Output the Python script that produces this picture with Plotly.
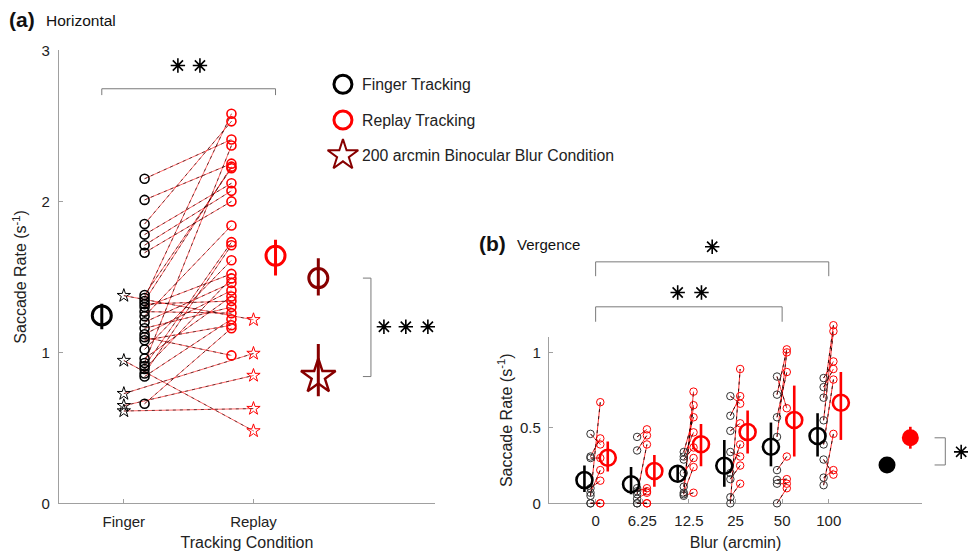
import plotly.graph_objects as go

# ---------------- data: panel (a) Horizontal ----------------
finger_circ = [2.15, 2.01, 1.85, 1.78, 1.71, 1.66,
               1.38, 1.36, 1.34, 1.32, 1.30, 1.27, 1.24, 1.20, 1.16, 1.12,
               1.10, 1.08, 1.02, 0.96, 0.93, 0.91, 0.89, 0.86, 0.84, 0.66]
replay_circ = [2.41, 2.25, 2.53, 2.12, 2.07, 2.00,
               2.22, 2.58, 2.23, 1.34, 1.52, 1.26, 1.84, 1.46, 1.30, 1.41,
               0.98, 1.18, 1.61, 1.37, 2.37, 1.73, 1.49, 1.71, 1.22, 1.16]
finger_star = [1.376, 0.946, 0.727, 0.647, 0.612]
replay_star = [1.216, 0.480, 0.993, 0.847, 0.628]
a_means = [1.245, 1.640, 1.492, 0.840]          # finger, replay, 200' circle, 200' star
a_lo = [1.153, 1.510, 1.376, 0.710]
a_hi = [1.322, 1.746, 1.624, 1.056]
a_ticks = ["Finger", "Replay"]
legend_labels = ["Finger Tracking", "Replay Tracking", "200 arcmin Binocular Blur Condition"]

# ---------------- data: panel (b) Vergence ----------------
blur_labels = ["0", "6.25", "12.5", "25", "50", "100"]
b_black = [
    [0.46, 0.31, 0.30, 0.10, 0.07, 0.05, 0.00, 0.00],
    [0.44, 0.35, 0.10, 0.08, 0.06, 0.03, 0.00, 0.00],
    [0.34, 0.31, 0.29, 0.20, 0.11, 0.07, 0.06, 0.05],
    [0.71, 0.58, 0.48, 0.34, 0.20, 0.16, 0.04, 0.00],
    [0.84, 0.72, 0.57, 0.44, 0.22, 0.155, 0.13, 0.00],
    [0.83, 0.77, 0.70, 0.55, 0.39, 0.29, 0.17, 0.12],
]
b_red = [
    [0.39, 0.43, 0.30, 0.15, 0.22, 0.67, 0.00, 0.00],
    [0.49, 0.45, 0.08, 0.10, 0.39, 0.07, 0.00, 0.00],
    [0.57, 0.47, 0.37, 0.30, 0.65, 0.24, 0.74, 0.07],
    [0.66, 0.71, 0.53, 0.31, 0.39, 0.25, 0.13, 0.89],
    [0.63, 1.02, 0.87, 1.00, 0.31, 0.16, 0.13, 0.10],
    [0.94, 0.89, 1.18, 1.14, 0.82, 0.19, 0.22, 0.46],
]
b_black_mean = [0.154, 0.126, 0.196, 0.249, 0.375, 0.446]
b_black_lo = [0.075, 0.060, 0.150, 0.110, 0.245, 0.310]
b_black_hi = [0.250, 0.240, 0.240, 0.420, 0.535, 0.597]
b_red_mean = [0.302, 0.214, 0.391, 0.472, 0.552, 0.666]
b_red_lo = [0.210, 0.110, 0.245, 0.330, 0.310, 0.420]
b_red_hi = [0.410, 0.320, 0.525, 0.615, 0.780, 0.870]
overall_black = 0.254
overall_red = 0.434
overall_red_lo = 0.362
overall_red_hi = 0.507

# ---------------- styles ----------------
RED = "#FF0000"
DARK = "#870000"
AXC = "#A0A0A0"
BRC = "#7a7a7a"
TXT = "#222222"
FONT = "Liberation Sans, Arial, sans-serif"
W, H = 968, 557

# axis geometry
XA_DOM = [59 / W, 435 / W]
YA_DOM = [1 - 503.4 / H, 1 - 50.4 / H]
XA_RNG = [0.5, 3.4]
YA_RNG = [0, 3]
XB_DOM = [549 / W, 922 / W]
YB_DOM = [1 - 503.3 / H, 1 - 337.3 / H]
XB_RNG = [-1, 7]
YB_RNG = [0, 1.1]


def to_paper(v, dom, rng):
    return dom[0] + (v - rng[0]) / (rng[1] - rng[0]) * (dom[1] - dom[0])


def from_paper(p, dom, rng):
    return rng[0] + (p - dom[0]) / (dom[1] - dom[0]) * (rng[1] - rng[0])


# invisible overlay axes for panel (b) data with the same scale but a larger
# area, so that marks above the axis top (as in the original) are not clipped
X3_DOM = [XB_DOM[0] - 0.02, 1.0]
Y3_DOM = [YB_DOM[0] - 0.04, 0.62]
X3_RNG = [from_paper(d, XB_DOM, XB_RNG) for d in X3_DOM]
Y3_RNG = [from_paper(d, YB_DOM, YB_RNG) for d in Y3_DOM]

fig = go.Figure()

XF_C, XR_C, XF_S, XR_S = 1.16, 1.83, 1.0, 2.0
XM = [0.83, 2.17, 2.5, 2.5]


def pair_lines(x0, y0s, x1, y1s):
    xs, ys = [], []
    for a, b in zip(y0s, y1s):
        xs += [x0, x1, None]
        ys += [a, b, None]
    return xs, ys


# ---- panel (a) connecting lines ----
lx, ly = pair_lines(XF_C, finger_circ, XR_C, replay_circ)
sx, sy = pair_lines(XF_S, finger_star, XR_S, replay_star)
for col, dash in [(RED, "solid"), ("#000000", "3px,4px")]:
    fig.add_trace(go.Scatter(x=lx + sx, y=ly + sy, mode="lines",
                             line=dict(color=col, width=0.6, dash=dash),
                             xaxis="x", yaxis="y", hoverinfo="skip", showlegend=False))

# ---- panel (a) individual markers ----
fig.add_trace(go.Scatter(x=[XF_C] * len(finger_circ), y=finger_circ, mode="markers",
                         marker=dict(symbol="circle-open", size=9, color="#000", line=dict(width=1.6)),
                         showlegend=False))
fig.add_trace(go.Scatter(x=[XR_C] * len(replay_circ), y=replay_circ, mode="markers",
                         marker=dict(symbol="circle-open", size=9, color=RED, line=dict(width=1.6)),
                         showlegend=False))
fig.add_trace(go.Scatter(x=[XF_S] * len(finger_star), y=finger_star, mode="markers",
                         marker=dict(symbol="star-open", size=10, color="#000", line=dict(width=1)),
                         showlegend=False))
fig.add_trace(go.Scatter(x=[XR_S] * len(replay_star), y=replay_star, mode="markers",
                         marker=dict(symbol="star-open", size=10, color=RED, line=dict(width=1)),
                         showlegend=False))

# ---- panel (a) means ----
mean_cols = ["#000000", RED, DARK, DARK]
mean_syms = ["circle-open", "circle-open", "circle-open", "star-open"]
mean_sizes = [19, 19, 19, 26]
for i in range(4):
    fig.add_trace(go.Scatter(
        x=[XM[i]], y=[a_means[i]], mode="markers",
        marker=dict(symbol=mean_syms[i], size=mean_sizes[i], color=mean_cols[i],
                    line=dict(width=3 if i < 3 else 2.4)),
        error_y=dict(type="data", symmetric=False, array=[a_hi[i] - a_means[i]],
                     arrayminus=[a_means[i] - a_lo[i]], color=mean_cols[i], thickness=3, width=0),
        showlegend=False))

# ---- panel (a) legend (drawn inside axes) ----
LEG_X, LEG_TX = 2.69, 2.82
LEG_Y = [2.776, 2.539, 2.306]
leg_cols = ["#000000", RED, DARK]
leg_syms = ["circle-open", "circle-open", "star-open"]
leg_sizes = [18, 18, 23]
for i in range(3):
    fig.add_trace(go.Scatter(x=[LEG_X], y=[LEG_Y[i]], mode="markers",
                             marker=dict(symbol=leg_syms[i], size=leg_sizes[i], color=leg_cols[i],
                                         line=dict(width=3 if i < 2 else 2)),
                             showlegend=False))
    fig.add_annotation(x=LEG_TX, y=LEG_Y[i], xref="x", yref="y", text=legend_labels[i],
                       showarrow=False, xanchor="left", yanchor="middle",
                       font=dict(size=15.8, color=TXT, family=FONT))

# ---- panel (a) significance ----
BR_Y, BR_T = 2.746, 2.704
RB_X, RB_T = 2.906, 2.844
a_br = [(XM[0], BR_T, XM[0], BR_Y), (XM[0], BR_Y, XM[1], BR_Y), (XM[1], BR_Y, XM[1], BR_T),
        (RB_T, a_means[2], RB_X, a_means[2]), (RB_X, a_means[2], RB_X, a_means[3]),
        (RB_X, a_means[3], RB_T, a_means[3])]
for x0, y0, x1, y1 in a_br:
    fig.add_shape(type="line", x0=to_paper(x0, XA_DOM, XA_RNG), x1=to_paper(x1, XA_DOM, XA_RNG),
                  y0=to_paper(y0, YA_DOM, YA_RNG), y1=to_paper(y1, YA_DOM, YA_RNG),
                  xref="paper", yref="paper", line=dict(color=BRC, width=1))
fig.add_trace(go.Scatter(x=[1.417, 1.587, 3.006, 3.175, 3.345], y=[2.9, 2.9, 1.17, 1.17, 1.17],
                         mode="markers", showlegend=False,
                         marker=dict(symbol="asterisk-open", size=12, color="#000",
                                     line=dict(width=1.6, color="#000"))))

# ---------------- panel (b) ----------------
# dummy trace so the visible axes x2/y2 are drawn
fig.add_trace(go.Scatter(x=[None], y=[None], xaxis="x2", yaxis="y2", showlegend=False))

OB, OR = -0.11, 0.10
MB, MR = -0.24, 0.26
bx, by = [], []
for i in range(6):
    for a, b in zip(b_black[i], b_red[i]):
        bx += [i + OB, i + OR, None]
        by += [a, b, None]
for col, dash in [(RED, "solid"), ("#000000", "3px,4px")]:
    fig.add_trace(go.Scatter(x=bx, y=by, mode="lines", xaxis="x3", yaxis="y3",
                             line=dict(color=col, width=0.8, dash=dash), hoverinfo="skip",
                             showlegend=False))
for i in range(6):
    fig.add_trace(go.Scatter(x=[i + OB] * len(b_black[i]), y=b_black[i], mode="markers",
                             xaxis="x3", yaxis="y3", showlegend=False,
                             marker=dict(symbol="circle-open", size=7.5, color="#333", line=dict(width=1))))
    fig.add_trace(go.Scatter(x=[i + OR] * len(b_red[i]), y=b_red[i], mode="markers",
                             xaxis="x3", yaxis="y3", showlegend=False,
                             marker=dict(symbol="circle-open", size=7.5, color=RED, line=dict(width=1))))

fig.add_trace(go.Scatter(
    x=[i + MB for i in range(6)], y=b_black_mean, mode="markers", xaxis="x3", yaxis="y3",
    marker=dict(symbol="circle-open", size=16, color="#000", line=dict(width=2.6)),
    error_y=dict(type="data", symmetric=False,
                 array=[h - m for h, m in zip(b_black_hi, b_black_mean)],
                 arrayminus=[m - l for l, m in zip(b_black_lo, b_black_mean)],
                 color="#000", thickness=2.6, width=0),
    showlegend=False))
fig.add_trace(go.Scatter(
    x=[i + MR for i in range(6)], y=b_red_mean, mode="markers", xaxis="x3", yaxis="y3",
    marker=dict(symbol="circle-open", size=16, color=RED, line=dict(width=2.6)),
    error_y=dict(type="data", symmetric=False,
                 array=[h - m for h, m in zip(b_red_hi, b_red_mean)],
                 arrayminus=[m - l for l, m in zip(b_red_lo, b_red_mean)],
                 color=RED, thickness=2.6, width=0),
    showlegend=False))
fig.add_trace(go.Scatter(x=[6.25], y=[overall_black], mode="markers", xaxis="x3", yaxis="y3",
                         marker=dict(symbol="circle", size=17, color="#000"), showlegend=False))
fig.add_trace(go.Scatter(x=[6.75], y=[overall_red], mode="markers", xaxis="x3", yaxis="y3",
                         marker=dict(symbol="circle", size=17, color=RED),
                         error_y=dict(type="data", symmetric=False, array=[overall_red_hi - overall_red],
                                      arrayminus=[overall_red - overall_red_lo], color=RED,
                                      thickness=2.6, width=0),
                         showlegend=False))

# panel (b) significance brackets
brx, bry = [], []
for (xa, xb, yt, yb) in [(0, 5, 1.60, 1.505), (0, 4, 1.302, 1.203)]:
    brx += [xa, xa, xb, xb, None]
    bry += [yb, yt, yt, yb, None]
brx += [7.27, 7.5, 7.5, 7.27]
bry += [overall_red, overall_red, overall_black, overall_black]
fig.add_trace(go.Scatter(x=brx, y=bry, mode="lines", xaxis="x3", yaxis="y3",
                         line=dict(color=BRC, width=1), hoverinfo="skip", showlegend=False))
fig.add_trace(go.Scatter(x=[2.5, 1.76, 2.27, 7.84], y=[1.70, 1.397, 1.397, 0.341],
                         mode="markers", xaxis="x3", yaxis="y3", showlegend=False,
                         marker=dict(symbol="asterisk-open", size=12, color="#000",
                                     line=dict(width=1.6, color="#000"))))

# ---------------- panel labels ----------------
for xp, yp, txt, sz, bold in [(7, 19, "(a)", 21, True), (44, 20, "Horizontal", 15.5, False),
                               (477, 243, "(b)", 21, True), (515, 244, "Vergence", 15, False)]:
    fig.add_annotation(x=xp / W, y=1 - yp / H, xref="paper", yref="paper",
                       text=f"<b>{txt}</b>" if bold else txt, showarrow=False,
                       xanchor="left", yanchor="middle", font=dict(size=sz, color="#111", family=FONT))

axis_common = dict(showline=True, linecolor=AXC, linewidth=1.3, ticks="inside", ticklen=4,
                   tickcolor=AXC, showgrid=False, zeroline=False, automargin=False,
                   tickfont=dict(size=15, color=TXT, family=FONT), mirror=False)
hidden = dict(visible=False, showgrid=False, zeroline=False, automargin=False, fixedrange=True)

fig.update_layout(
    width=W, height=H, margin=dict(l=0, r=0, t=0, b=0), autosize=False,
    paper_bgcolor="white", plot_bgcolor="rgba(0,0,0,0)", showlegend=False,
    font=dict(family=FONT, color=TXT),
    xaxis=dict(domain=XA_DOM, range=XA_RNG, tickvals=[1, 2], ticktext=a_ticks, anchor="y",
               ticklabelstandoff=4,
               title=dict(text="Tracking Condition", font=dict(size=16, color=TXT), standoff=8),
               **axis_common),
    yaxis=dict(domain=YA_DOM, range=YA_RNG, tickvals=[0, 1, 2, 3], anchor="x",
               ticklabelstandoff=5,
               title=dict(text="Saccade Rate (s<sup>-1</sup>)", font=dict(size=16, color=TXT), standoff=10),
               **axis_common),
    xaxis2=dict(domain=XB_DOM, range=XB_RNG, tickvals=list(range(6)), ticktext=blur_labels, anchor="y2",
                ticklabelstandoff=4,
                title=dict(text="Blur (arcmin)", font=dict(size=16, color=TXT), standoff=8),
                **axis_common),
    yaxis2=dict(domain=YB_DOM, range=YB_RNG, tickvals=[0, 0.5, 1], ticktext=["0", "0.5", "1"], anchor="x2",
                ticklabelstandoff=4,
                title=dict(text="Saccade Rate (s<sup>-1</sup>)", font=dict(size=16, color=TXT), standoff=3),
                **axis_common),
    xaxis3=dict(domain=X3_DOM, range=X3_RNG, anchor="y3", **hidden),
    yaxis3=dict(domain=Y3_DOM, range=Y3_RNG, anchor="x3", **hidden),
)

fig.write_html("out.html")
